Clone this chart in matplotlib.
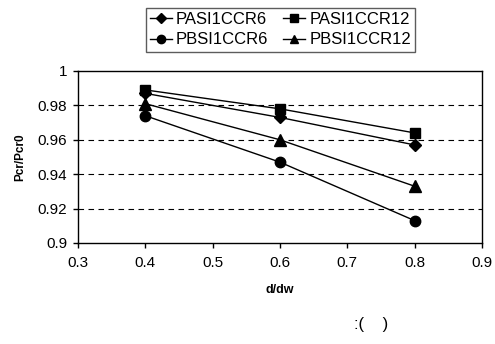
import matplotlib
matplotlib.use("Agg")
from matplotlib import pyplot as plt

plt.rcParams['font.family'] = ['Liberation Sans', 'DejaVu Sans']

d_dw = [0.4, 0.6, 0.8]
pasi_ccr6 = [0.987, 0.973, 0.957]
pasi_ccr12 = [0.989, 0.978, 0.964]
pbsi_ccr6 = [0.974, 0.947, 0.913]
pbsi_ccr12 = [0.981, 0.960, 0.933]

x_ticks = [0.3, 0.4, 0.5, 0.6, 0.7, 0.8, 0.9]
y_ticks = [0.9, 0.92, 0.94, 0.96, 0.98, 1.0]
y_tick_labels = ['0.9', '0.92', '0.94', '0.96', '0.98', '1']

fig = plt.figure(figsize=(4.95, 3.44), dpi=100)
ax = fig.add_axes([78 / 495, 1 - 243 / 344, 404 / 495, 172 / 344])

line_kw = dict(color='black', linewidth=1, markerfacecolor='black', markeredgecolor='black')
ax.plot(d_dw, pasi_ccr6, marker='D', markersize=6, label='PASI1CCR6', **line_kw)
ax.plot(d_dw, pbsi_ccr6, marker='o', markersize=7.5, label='PBSI1CCR6', **line_kw)
ax.plot(d_dw, pasi_ccr12, marker='s', markersize=7.5, label='PASI1CCR12', **line_kw)
ax.plot(d_dw, pbsi_ccr12, marker='^', markersize=8, label='PBSI1CCR12', **line_kw)

ax.set_xlim(0.3, 0.9)
ax.set_ylim(0.9, 1.0)
ax.set_xticks(x_ticks)
ax.set_xticklabels([f'{v:.1f}' for v in x_ticks])
ax.set_yticks(y_ticks)
ax.set_yticklabels(y_tick_labels)
ax.tick_params(direction='out', length=3.6, width=1, labelsize=11)
ax.tick_params(axis='x', pad=6)
ax.tick_params(axis='y', pad=4)

# dashed gridlines between the box edges
for y in y_ticks[1:-1]:
    ax.axhline(y, color='black', linestyle=(0, (5, 4)), linewidth=0.8, zorder=0)

for s in ax.spines.values():
    s.set_linewidth(1)

ax.set_xlabel('d/dw', fontweight='bold', fontsize=9, labelpad=10)
ax.set_ylabel('Pcr/Pcr0', fontweight='bold', fontsize=8.5, labelpad=8)

leg = fig.legend(loc='upper left', bbox_to_anchor=(146 / 495, 1 - 8 / 344), ncol=2,
                 fontsize=12, frameon=True, fancybox=False, edgecolor='#333333',
                 markerscale=0.8, handlelength=1.3, handletextpad=0.25,
                 columnspacing=0.9, labelspacing=0.32, borderpad=0.25,
                 borderaxespad=0)
leg.get_frame().set_linewidth(1)

fig.text(371 / 495, 1 - 324 / 344, ':(    )', fontsize=12, ha='center', va='center')

fig.savefig('out.png', dpi=100)
